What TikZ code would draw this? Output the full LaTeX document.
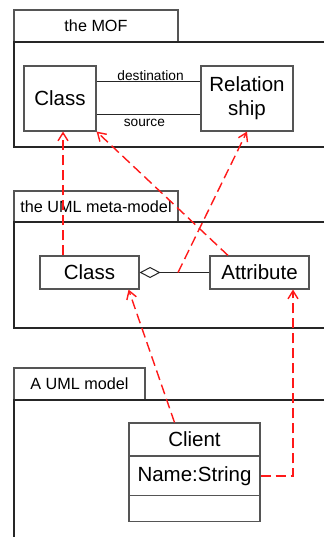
\documentclass[tikz,border=0pt]{standalone}
\usepackage{fontspec}
\setmainfont{Liberation Sans}
\usetikzlibrary{arrows.meta,calc}
\definecolor{boxgray}{RGB}{85,85,85}
\definecolor{depred}{RGB}{255,25,25}
\tikzset{
  cls/.style={draw=boxgray, line width=1.1pt, fill=white, inner sep=0pt, font=\fontsize{20.5}{24}\selectfont, align=center},
  tab/.style={draw=boxgray, line width=1.1pt, inner sep=0pt, font=\fontsize{16.2}{19}\selectfont},
  pkg/.style={draw=black!85, line width=1.1pt},
  assoc/.style={draw=black!85, line width=1pt},
  lbl/.style={inner sep=1pt, font=\fontsize{13.7}{16}\selectfont},
  dep/.style={draw=depred, line width=1.4pt, dash pattern=on 10pt off 5pt, -{Straight Barb[length=8pt,width=10pt]}}
}
\begin{document}
\begin{tikzpicture}[x=1pt,y=-1pt]
\useasboundingbox (0,0) rectangle (324,537);
% packages
\node[tab, minimum width=164pt, minimum height=32pt] (mof) at (96,26) {the MOF};
\draw[pkg] (324,42) -- (14,42) -- (14,147) -- (324,147);
\node[tab, minimum width=164pt, minimum height=31pt] (meta) at (96,206.5) {the UML meta-model};
\draw[pkg] (324,222) -- (14,222) -- (14,328) -- (324,328);
\node[tab, minimum width=131pt, minimum height=32pt] (model) at (79.5,384) {A UML model};
\draw[pkg] (324,400) -- (14,400) -- (14,537);
% MOF
\node[cls, minimum width=72pt, minimum height=65pt] (mofclass) at (60,98.5) {Class};
\node[cls, minimum width=92pt, minimum height=65pt] (rel) at (247,98.5) {Relation\\ship};
\draw[assoc] ([yshift=16.5pt]mofclass.east) -- node[lbl, above, pos=0.52] {destination} ([yshift=16.5pt]rel.west);
\draw[assoc] ([yshift=-16.5pt]mofclass.east) -- node[lbl, below=3pt, pos=0.46] {source} ([yshift=-16.5pt]rel.west);
% meta-model
\node[cls, minimum width=99pt, minimum height=33pt] (metaclass) at (89.5,272.5) {Class};
\node[cls, minimum width=99pt, minimum height=33pt] (attr) at (259.5,272.5) {Attribute};
\draw[assoc, -{Diamond[open,length=21pt,width=11pt]}] (attr.west) -- (metaclass.east);
\coordinate (aggmid) at (178,272.5);
% model
\node[cls, minimum width=131pt, minimum height=33pt] (client) at (194.5,439.5) {Client};
\node[cls, minimum width=131pt, minimum height=39pt] (name) at (194.5,476) {Name:String};
\node[cls, minimum width=131pt, minimum height=26pt] (ops) at (194.5,508.5) {};
% dependencies
\coordinate (a1) at ([xshift=3pt]mofclass.south);
\draw[dep] (metaclass.north -| a1) -- (a1);
\draw[dep] ([xshift=-31.5pt]attr.north) -- (mofclass.south east);
\draw[dep] (aggmid) -- (rel.south);
\draw[dep] ([xshift=-20pt]client.north) -- ([xshift=-11pt]metaclass.south east);
\draw[dep] (name.east) -| ([xshift=33.5pt]attr.south);
\end{tikzpicture}
\end{document}
